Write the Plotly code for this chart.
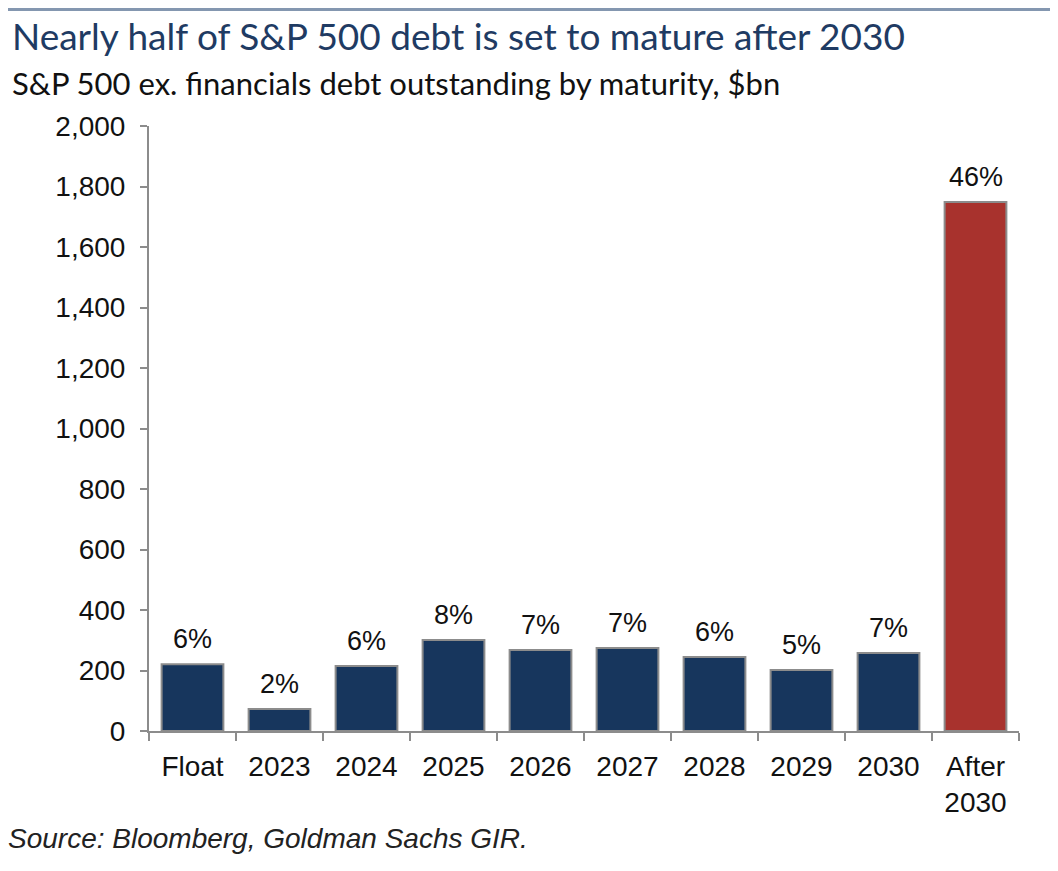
import plotly.graph_objects as go

categories = ["Float", "2023", "2024", "2025", "2026", "2027", "2028", "2029", "2030", "After<br>2030"]
debt_bn = [221, 73, 215, 301, 268, 274, 245, 202, 258, 1749]
share_labels = ["6%", "2%", "6%", "8%", "7%", "7%", "6%", "5%", "7%", "46%"]
bar_colors = ["#17365d"] * 9 + ["#a8322d"]

# page body keeps an 8px default margin; figure sized so the plot lands at the reference pixels
W, H = 1050, 863
L, R, T, B = 141, 39, 118, 140
PW, PH = W - L - R, H - T - B

fig = go.Figure()
fig.add_trace(go.Bar(
    x=categories, y=debt_bn,
    marker=dict(color=bar_colors, line=dict(color="#8c8c8c", width=2)),
    hoverinfo="skip",
))

# percentage labels placed at each category's index on the category axis
annotations = [
    dict(x=i, y=v, text=t, xref="x", yref="y", xanchor="center", yanchor="bottom",
         yshift=8, showarrow=False,
         font=dict(family="Liberation Sans, Arial", size=27, color="#111111"))
    for i, (v, t) in enumerate(zip(debt_bn, share_labels))
]
annotations += [
    dict(text="Nearly half of S&P 500 debt is set to mature after 2030", xref="paper", yref="paper",
         x=-(L - 2) / PW, y=1 + (T - 27) / PH, xanchor="left", yanchor="middle", showarrow=False,
         font=dict(family="Lato", size=37, color="#1f3b63")),
    dict(text="S&P 500 ex. financials debt outstanding by maturity, $bn", xref="paper", yref="paper",
         x=-(L - 2) / PW, y=1 + (T - 75) / PH, xanchor="left", yanchor="middle", showarrow=False,
         font=dict(family="Lato", size=31, color="#111111")),
    dict(text="<i>Source: Bloomberg, Goldman Sachs GIR.</i>", xref="paper", yref="paper",
         x=-(L + 2) / PW, y=-(838 - 731) / PH, xanchor="left", yanchor="middle", showarrow=False,
         font=dict(family="Liberation Sans, Arial", size=28, color="#222222")),
]

fig.update_layout(
    width=W, height=H,
    paper_bgcolor="white", plot_bgcolor="white",
    margin=dict(l=L, r=R, t=T, b=B),
    bargap=0.29,
    showlegend=False,
    font=dict(family="Liberation Sans, Arial", size=28, color="#111111"),
    xaxis=dict(
        type="category",
        showline=True, linecolor="#8c8c8c", linewidth=2,
        ticks="outside", tickson="boundaries", ticklen=8, tickcolor="#8c8c8c", tickwidth=2,
        tickfont=dict(size=28, color="#111111"), showgrid=False, ticklabelstandoff=9,
    ),
    yaxis=dict(
        range=[0, 2000], dtick=200, tickformat=",",
        showline=True, linecolor="#8c8c8c", linewidth=2,
        ticks="outside", ticklen=7, tickcolor="#8c8c8c", tickwidth=2,
        tickfont=dict(size=28, color="#111111"), showgrid=False, zeroline=False,
        ticklabelstandoff=9,
    ),
    shapes=[dict(type="line", xref="paper", yref="paper", x0=-L / PW, x1=1 + R / PW,
                 y0=1 + (T - 1) / PH, y1=1 + (T - 1) / PH, line=dict(color="#8497b0", width=4))],
    annotations=annotations,
)

fig.write_html("out.html")
